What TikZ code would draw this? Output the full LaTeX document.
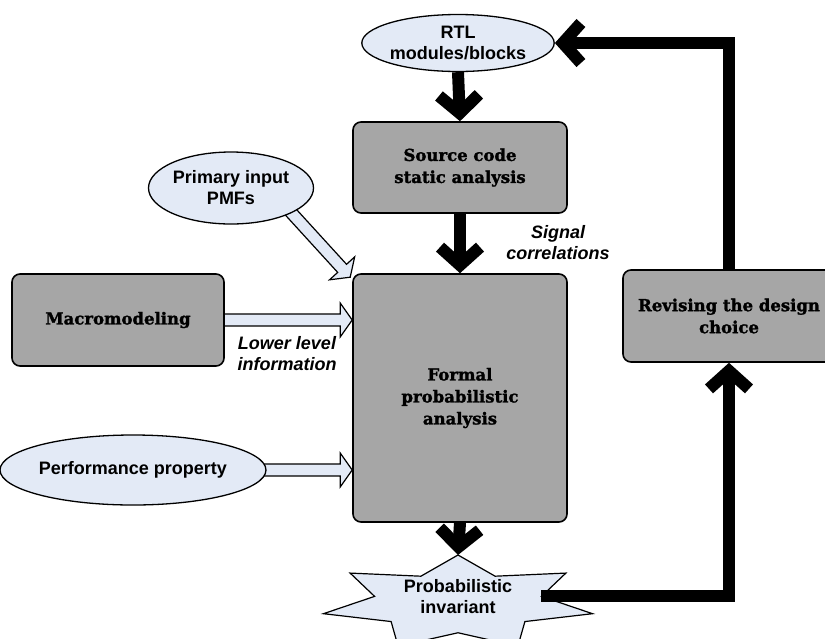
\documentclass[tikz,border=0pt]{standalone}
\usepackage{fontspec}
\setmainfont{Liberation Sans}
\newfontfamily\boxfont{DejaVu Serif}[BoldFeatures={FakeBold=1.6}]
\usetikzlibrary{arrows.meta,calc,shapes.geometric}
\definecolor{boxgray}{RGB}{166,166,166}
\definecolor{paleblue}{RGB}{227,234,246}
\pgfdeclarelayer{background}
\pgfsetlayers{background,main}

% hollow block arrow from #1 to #2 (shaft half width 6, head half width 17, head length 12)
\newcommand\fatarrow[2]{%
  \coordinate (fatbase) at ($(#2)!12pt!(#1)$);
  \draw[fat] ($(#1)!6pt!90:(#2)$) -- ($(fatbase)!6pt!90:(#2)$)
    -- ($(fatbase)!17pt!90:(#2)$) -- (#2)
    -- ($(fatbase)!17pt!-90:(#2)$) -- ($(fatbase)!6pt!-90:(#2)$)
    -- ($(#1)!6pt!-90:(#2)$) -- cycle;}

\tikzset{
  procbox/.style={draw=black, line width=1.6pt, fill=boxgray, rounded corners=8pt,
    align=center, inner sep=0pt, font=\boxfont\bfseries\fontsize{16.5}{22}\selectfont},
  datanode/.style={ellipse, draw=black, line width=1.3pt, fill=paleblue, align=center,
    inner sep=0pt, font=\bfseries\fontsize{18}{21}\selectfont},
  flow/.style={line width=12pt, line join=miter, -{Straight Barb[length=18pt,width=40pt]}},
  fat/.style={draw=black, line width=1.2pt, fill=paleblue, line join=miter},
  note/.style={align=center, font=\bfseries\itshape\fontsize{18}{21}\selectfont},
  starstyle/.style={draw=black, line width=1.2pt, fill=paleblue, line join=miter}
}

\begin{document}
\begin{tikzpicture}[x=1pt,y=-1pt]
\useasboundingbox (0,0) rectangle (825,638);
\clip (0,0) rectangle (825,638);

% blocks
\node[procbox, minimum width=214pt, minimum height=91pt] (source) at (460,167.5) {Source code\\static analysis};
\node[procbox, minimum width=214pt, minimum height=248pt] (formal) at (460,398) {Formal\\probabilistic\\analysis};
\node[procbox, minimum width=212pt, minimum height=92pt] (macro) at (118,320) {Macromodeling};
\node[procbox, minimum width=212pt, minimum height=92pt] (revise) at (729,316) {Revising the design\\choice};

% data items
\node[datanode, minimum width=177pt, minimum height=57pt] (rtl) at (458,43) {RTL\\modules/blocks};
\node[datanode, minimum width=165pt, minimum height=72pt] (primary) at (231,188) {Primary input\\PMFs};
\node[datanode, minimum width=241pt, minimum height=70pt] (perf) at (133,470) {Performance property};

% seven-point star for the result
\begin{scope}[shift={(458,603)}]
  \draw[starstyle] (270:138 and 48)
    \foreach \k [evaluate=\k as \r using {ifthenelse(mod(\k,2)==0,1,0.62)}] in {1,...,13}
      { -- ({270+\k*360/14}:{138*\r} and {48*\r}) } -- cycle;
  \coordinate (invtop) at (270:138 and 48);
  \coordinate (invright) at (347.14:85.6 and 29.8);
\end{scope}
\node[font=\bfseries\fontsize{18}{21}\selectfont, align=center] (inv) at (458,597) {Probabilistic\\invariant};

% hollow input arrows
\coordinate (pmfout) at ($(primary.-20)!8pt!(primary.center)$);
\coordinate (pmfin) at ([xshift=-2pt,yshift=-4pt]formal.north west);
\begin{pgfonlayer}{background}
  \fatarrow{pmfout}{pmfin}
  \fatarrow{macro.center}{macro.center -| formal.west}
  \fatarrow{perf.center}{perf.center -| formal.west}
\end{pgfonlayer}

% main flow
\draw[flow] (rtl.south) -- (source.north);
\draw[flow] (source.south) -- (formal.north);
\draw[flow] (formal.south) -- (invtop);
\draw[flow] (invright) -| (revise.south);
\draw[flow] (revise.north) |- (rtl.east);

% labels
\node[note] (sig) at (558,243) {Signal\\correlations};
\node[note] (low) at (287,354) {Lower level\\information};
\end{tikzpicture}
\end{document}
